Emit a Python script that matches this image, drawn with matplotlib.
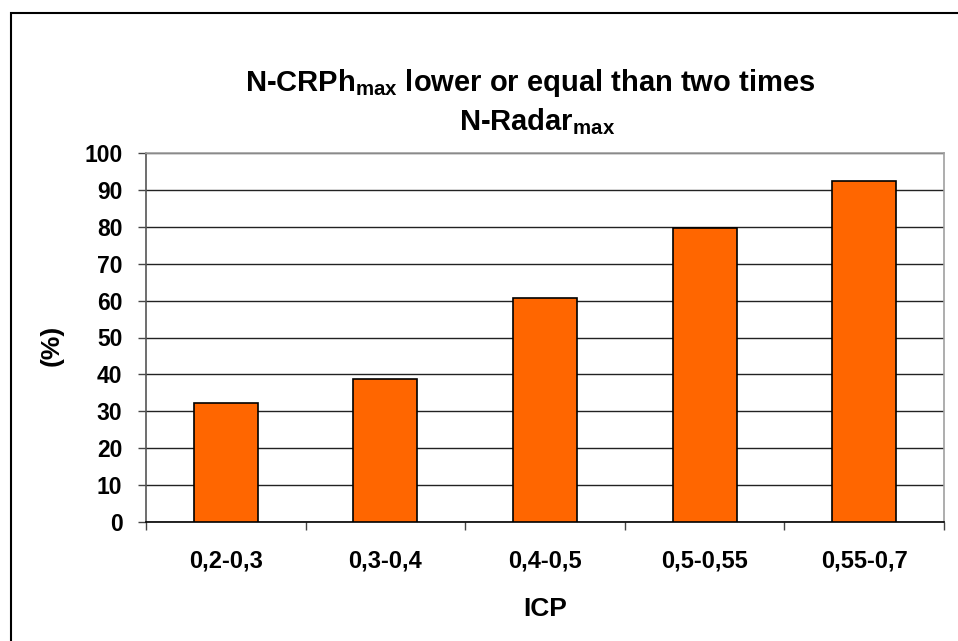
import matplotlib
matplotlib.use("Agg")
import matplotlib.pyplot as plt
from matplotlib.patches import Rectangle

plt.rcParams['font.family'] = ['Liberation Sans', 'DejaVu Sans']
plt.rcParams['mathtext.fontset'] = 'custom'
plt.rcParams['mathtext.rm'] = 'Liberation Sans:bold'
plt.rcParams['mathtext.bf'] = 'Liberation Sans:bold'
plt.rcParams['mathtext.it'] = 'Liberation Sans:bold'

categories = ["0,2-0,3", "0,3-0,4", "0,4-0,5", "0,5-0,55", "0,55-0,7"]
values = [32.2, 38.7, 60.8, 79.6, 92.3]
yticks = [0, 10, 20, 30, 40, 50, 60, 70, 80, 90, 100]

W, H = 958, 641
fig = plt.figure(figsize=(W / 100, H / 100), dpi=100)
fig.patch.set_facecolor('white')

# outer chart border (right/bottom lie outside the image)
fig.patches.append(Rectangle((11 / W, -0.1), 1.2, 1 - 13 / H + 0.1,
                             transform=fig.transFigure, fill=False,
                             edgecolor='black', linewidth=1.5))

ax = fig.add_axes([146 / W, (H - 522) / H, (944 - 146) / W, (522 - 153) / H])
x = list(range(len(categories)))
ax.bar(x, values, width=0.4, color='#FF6600', edgecolor='black', linewidth=1.2, zorder=3)

ax.set_xlim(-0.5, len(categories) - 0.5)
ax.set_ylim(0, 100)
ax.set_yticks(yticks)
ax.set_yticklabels([str(v) for v in yticks], fontsize=16.5, fontweight='bold')
ax.yaxis.grid(True, color='#222222', linewidth=1.0, zorder=0)
ax.set_axisbelow(True)

ax.set_xticks([i - 0.5 for i in range(len(categories) + 1)])
ax.set_xticklabels([])
ax.set_xticks(x, minor=True)
ax.set_xticklabels(categories, minor=True, fontsize=17, fontweight='bold')
ax.tick_params(axis='x', which='minor', length=0, pad=20)
ax.tick_params(axis='x', which='major', length=6, width=1, color='#444444', direction='out')
ax.tick_params(axis='y', length=6, width=1, color='#444444', direction='out', pad=11)

ax.spines['top'].set_color('#A0A0A0')
ax.spines['right'].set_color('#A0A0A0')
ax.spines['left'].set_color('#555555')
ax.spines['bottom'].set_color('black')
for s in ax.spines.values():
    s.set_linewidth(1.2)

fig.text(545 / W, 1 - 609 / H, 'ICP', ha='center', va='center',
         fontsize=19, fontweight='bold')
fig.text(52 / W, 1 - 345 / H, '(%)', ha='center', va='center', rotation=90,
         fontsize=19, fontweight='bold')

fig.text(530 / W, 1 - 83 / H, r'N-CRPh$_{\mathrm{max}}$ lower or equal than two times',
         ha='center', va='center', fontsize=21, fontweight='bold')
fig.text(537 / W, 1 - 122 / H, r'N-Radar$_{\mathrm{max}}$',
         ha='center', va='center', fontsize=21, fontweight='bold')

fig.savefig('out.png', dpi=100, facecolor='white')
